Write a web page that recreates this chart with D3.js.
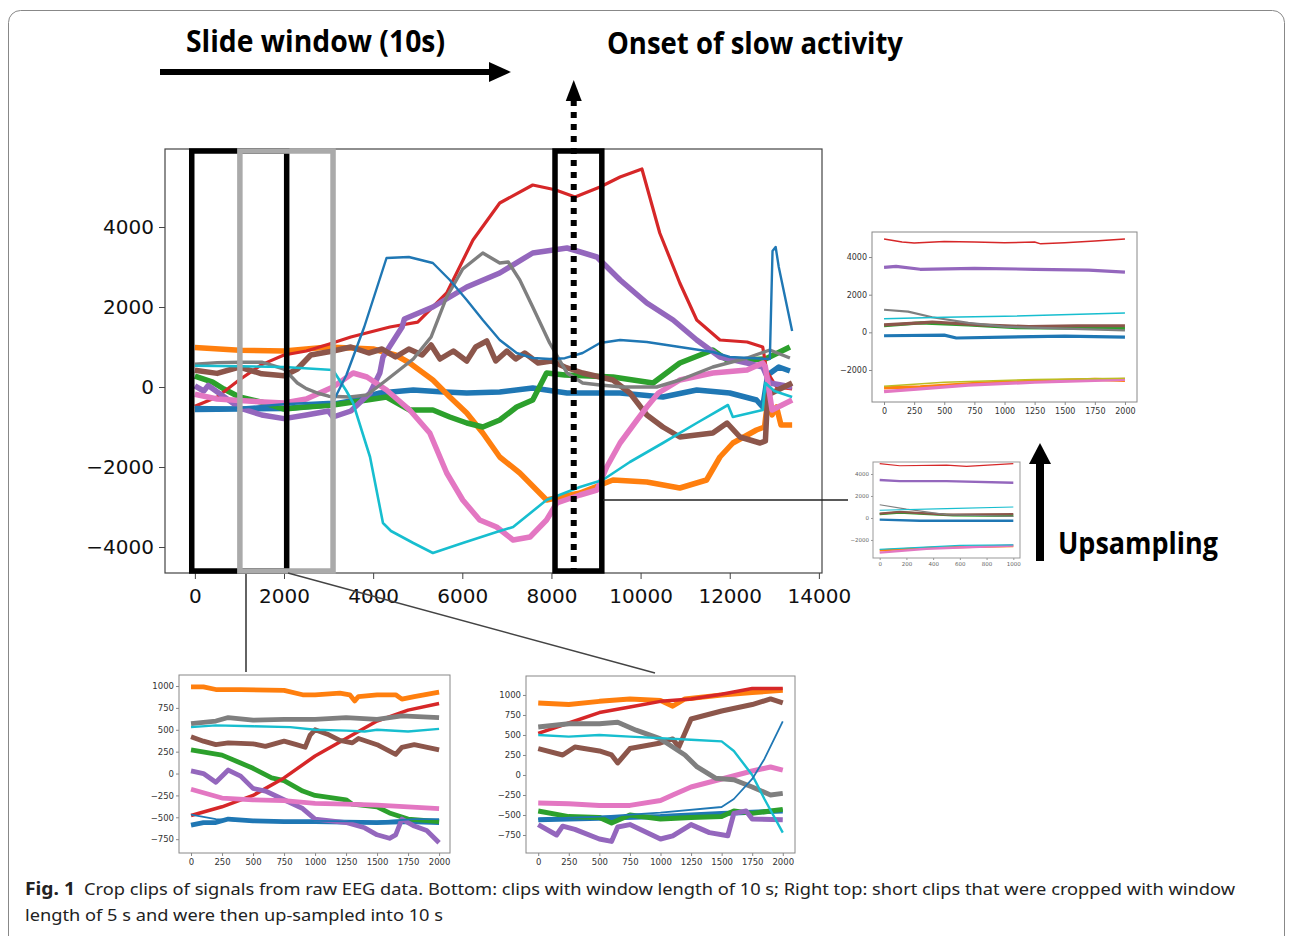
<!DOCTYPE html>
<html lang="en">
<head>
<meta charset="UTF-8">
<title>Fig. 1 crop clips</title>
<script src="https://d3js.org/d3.v7.min.js"></script>
<style>
    body{ margin:0; background:#fff; }
    svg{ display:block; }
    .tick text{ font-family:"DejaVu Sans", sans-serif; }
    .head{ font-family:"Open Sans", "Noto Sans", sans-serif; font-weight:700; }
    .cap{ font-family:"Noto Sans", sans-serif; font-size:17px; fill:#222; }
</style>
</head>
<body>
<svg id="fig" width="1293" height="936"></svg>
<script>
const C = {blue:"#1f77b4", orange:"#ff7f0e", green:"#2ca02c", red:"#d62728", purple:"#9467bd",
           brown:"#8c564b", pink:"#e377c2", gray:"#7f7f7f", olive:"#bcbd22", cyan:"#17becf"};

// ---- main recording: [sample, amplitude] ----
const mainBlueNoisy = [[0,-560],[1000,-550],[2000,-540],[3000,-450],[3500,-350],[4150,-150],[4900,-75],[5500,-120],[6100,-150],[6840,-125],[7580,-25],[8350,-150],[9540,-150],[10500,-250],[11260,-75],[12000,-150],[12600,-325],[12740,-500],[12850,300],[13100,500],[13350,400]];
const mainOrange = [[0,990],[1000,920],[2000,900],[3000,1000],[4000,950],[4500,800],[4820,600],[5340,175],[5720,-250],[6100,-650],[6460,-1150],[6840,-1750],[7290,-2150],[7890,-2825],[8640,-2650],[9380,-2325],[10140,-2375],[10880,-2525],[11480,-2325],[11780,-1750],[12070,-1400],[12600,-1075],[12780,-1000],[12850,-350],[12950,-700],[13050,-500],[13150,-950],[13400,-950]];
const mainGreen = [[0,270],[400,120],[650,-50],[1000,-250],[1500,-380],[2000,-550],[2500,-500],[3100,-450],[3860,-325],[4300,-250],[4820,-575],[5340,-575],[5720,-750],[6100,-900],[6460,-1000],[6840,-825],[7220,-500],[7580,-325],[7890,350],[8300,300],[9380,250],[10280,100],[10880,600],[11620,925],[11940,675],[12390,675],[12800,700],[13350,1000]];
const mainRed = [[0,-480],[500,-250],[1000,180],[1500,560],[2000,800],[2500,900],[3000,1070],[3500,1250],[4375,1500],[5000,1620],[5650,2350],[6240,3675],[6840,4600],[7580,5050],[8080,4930],[8530,4750],[9090,5000],[9540,5250],[10030,5450],[10430,3850],[10880,2600],[11260,1675],[11780,1175],[12390,1125],[12740,1000],[12830,400],[13050,0],[13400,-50]];
const mainPurple = [[0,30],[200,-100],[300,40],[600,-200],[1000,-520],[1500,-700],[2000,-790],[2500,-700],[3000,-600],[3100,-750],[3500,-600],[3930,-150],[4150,350],[4220,750],[4650,1500],[4700,1700],[5340,2000],[6100,2500],[6840,2850],[7580,3350],[8350,3475],[9020,3250],[9540,2675],[10140,2100],[10730,1675],[11260,1175],[11780,750],[12390,600],[12740,500],[12900,100],[13400,0]];
const mainBrown = [[0,420],[500,340],[1000,500],[1500,330],[2000,280],[2300,450],[2600,800],[3100,900],[3500,1000],[3900,850],[4200,950],[4500,750],[4800,950],[5100,800],[5300,1050],[5500,700],[5800,900],[6100,650],[6300,1000],[6550,1150],[6750,650],[7000,900],[7200,700],[7400,850],[7700,600],[8000,650],[8300,500],[8700,350],[9090,250],[9380,175],[9760,-150],[10140,-700],[10500,-1000],[10880,-1250],[11620,-1150],[11940,-900],[12230,-1250],[12680,-1400],[12800,-1350],[12850,-200],[13400,100]];
const mainPink = [[0,-180],[500,-300],[1000,-340],[2000,-400],[2500,-300],[3100,0],[3550,350],[3860,250],[4300,-75],[4820,-575],[5270,-1150],[5650,-2150],[6010,-2825],[6390,-3325],[6770,-3500],[7140,-3825],[7520,-3750],[7890,-3325],[8120,-2900],[8640,-2700],[9020,-2575],[9240,-2000],[9540,-1400],[9920,-825],[10140,-500],[10400,-150],[10880,175],[11620,350],[12390,425],[12740,600],[12800,500],[12950,-575],[13400,-325]];
const mainGray = [[0,570],[500,610],[1000,620],[1500,620],[2000,450],[2300,100],[2500,-40],[2750,-150],[3000,-230],[3480,-250],[3860,-200],[4300,175],[4900,700],[5300,1250],[5650,2250],[6010,2950],[6460,3350],[6840,3100],[7030,3125],[7290,2675],[7580,2000],[7960,1100],[8350,350],[8700,100],[9090,50],[9600,0],[10360,0],[10880,175],[11620,500],[12390,725],[12900,925],[13350,725]];
const mainCyan = [[0,530],[1000,520],[2000,500],[3100,425],[3400,-100],[3550,-400],[3930,-1750],[4220,-3400],[4400,-3600],[4900,-3900],[5340,-4150],[6010,-3900],[6770,-3625],[7140,-3500],[7890,-2825],[8640,-2500],[9150,-2325],[9760,-1875],[10500,-1400],[11260,-900],[11960,-450],[12070,-750],[12740,-575],[12800,100],[13000,-100],[13400,-250]];
const mainBlueSmooth = [[0,-500],[1000,-520],[2000,-430],[3100,-370],[3400,300],[3800,1500],[4300,3225],[4800,3250],[5340,3100],[5720,2675],[6100,2175],[6460,1675],[6840,1175],[7220,850],[7580,725],[7960,700],[8300,720],[8700,850],[9090,1100],[9540,1175],[10140,1125],[10880,1000],[11620,875],[12000,750],[12900,700],[12960,3400],[13030,3500],[13100,3000],[13400,1400]];

// windows on the main recording (sample ranges)
const slideWindow1 = [-70, 2060];
const slideWindow2 = [1010, 3100];
const onsetWindow = [8080, 9130];
const onsetSample = 8500;

// ---- bottom left clip (10 s) ----
const blOrange = [[0,990],[100,990],[200,960],[400,960],[750,950],[900,900],[1000,900],[1200,920],[1280,900],[1320,830],[1350,880],[1500,900],[1650,900],[1700,850],[1800,880],[2000,930]];
const blGray = [[0,570],[200,600],[300,640],[500,610],[750,620],[1000,620],[1250,640],[1500,620],[1700,660],[2000,640]];
const blCyan = [[0,530],[200,550],[500,540],[800,530],[1000,500],[1250,490],[1400,480],[1500,500],[1750,480],[2000,510]];
const blBrown = [[0,420],[100,370],[200,330],[300,350],[500,340],[600,310],[750,370],[850,330],[920,300],[960,440],[1000,500],[1100,450],[1200,380],[1300,350],[1350,400],[1500,330],[1650,220],[1700,300],[1800,330],[2000,270]];
const blRed = [[0,-480],[250,-380],[500,-250],[750,-50],[1000,200],[1250,400],[1500,600],[1750,725],[2000,800]];
const blGreen = [[0,270],[250,210],[400,120],[500,60],[650,-50],[750,-80],[900,-200],[1000,-250],[1250,-300],[1300,-350],[1500,-380],[1600,-450],[1750,-520],[2000,-550]];
const blPurple = [[0,30],[100,0],[200,-100],[300,40],[400,-30],[500,-170],[600,-200],[750,-300],[900,-400],[1000,-520],[1250,-560],[1400,-620],[1500,-700],[1600,-740],[1650,-700],[1700,-520],[1800,-600],[1900,-650],[2000,-790]];
const blPink = [[0,-180],[250,-280],[500,-300],[750,-310],[1000,-340],[1250,-350],[1500,-360],[1750,-380],[2000,-400]];
const blBlueNoisy = [[0,-590],[100,-560],[200,-560],[300,-520],[500,-540],[750,-550],[1000,-550],[1250,-555],[1500,-560],[1750,-550],[2000,-560]];
const blBlueSmooth = [[0,-470],[200,-520],[400,-540],[1000,-540],[1500,-550],[1800,-520],[2000,-520]];

// ---- bottom right clip (10 s) ----
const brOrange = [[0,900],[250,880],[500,920],[750,950],[1000,930],[1100,860],[1200,950],[1500,1000],[1750,1030],[2000,1060]];
const brRed = [[0,520],[250,650],[500,780],[750,850],[1000,920],[1250,950],[1500,1010],[1750,1080],[2000,1080]];
const brBrown = [[0,330],[200,250],[300,350],[500,300],[600,250],[650,150],[750,330],[1000,400],[1100,450],[1150,350],[1250,700],[1500,800],[1750,880],[1900,950],[2000,900]];
const brGray = [[0,600],[250,640],[500,640],[650,660],[800,560],[1000,450],[1200,250],[1300,100],[1450,-40],[1600,-60],[1750,-150],[1900,-250],[2000,-230]];
const brCyan = [[0,500],[250,480],[500,500],[750,480],[1000,460],[1250,440],[1500,420],[1600,300],[1750,0],[1850,-300],[2000,-720]];
const brPink = [[0,-350],[250,-360],[500,-380],[750,-380],[1000,-320],[1100,-250],[1250,-150],[1500,-50],[1750,50],[1900,100],[2000,60]];
const brBlueNoisy = [[0,-560],[500,-540],[1000,-520],[1500,-480],[2000,-450]];
const brGreen = [[0,-450],[250,-520],[500,-530],[600,-600],[750,-500],[1000,-550],[1250,-530],[1500,-520],[1600,-450],[1750,-480],[2000,-430]];
const brPurple = [[0,-620],[150,-750],[200,-640],[300,-680],[500,-800],[600,-830],[650,-650],[750,-620],[1000,-800],[1100,-760],[1250,-620],[1400,-720],[1550,-760],[1600,-480],[1700,-450],[1750,-550],[2000,-560]];
const brBlueSmooth = [[0,-550],[500,-520],[1000,-470],[1500,-400],[1600,-300],[1750,-50],[1850,200],[2000,670]];

// ---- right top clip (5 s up-sampled to 10 s) ----
const rtRed = [[0,4960],[150,4800],[250,4750],[500,4820],[750,4800],[1000,4760],[1250,4800],[1300,4700],[1500,4760],[1750,4850],[2000,4960]];
const rtPurple = [[0,3450],[100,3500],[300,3350],[750,3400],[1250,3350],[1700,3300],[2000,3200]];
const rtGray = [[0,1200],[200,1100],[400,800],[700,500],[1000,300],[1500,200],[2000,100]];
const rtCyan = [[0,720],[500,800],[1000,850],[2000,1030]];
const rtBrown = [[0,400],[300,500],[400,550],[800,400],[1200,300],[1600,350],[2000,350]];
const rtGreen = [[0,350],[300,500],[700,400],[1100,250],[2000,200]];
const rtBlue = [[0,-180],[500,-150],[600,-300],[1000,-250],[1500,-200],[2000,-250]];
const rtOlive = [[0,-2860],[500,-2650],[1250,-2500],[2000,-2440]];
const rtOrange = [[0,-2950],[300,-2900],[800,-2700],[1250,-2600],[1750,-2500],[2000,-2550]];
const rtPink = [[0,-3150],[300,-3000],[700,-2800],[1250,-2650],[1750,-2550],[2000,-2500]];

// ---- right middle clip (5 s) ----
const rmRed = [[0,4950],[150,4750],[500,4800],[650,4700],[1000,4950]];
const rmPurple = [[0,3450],[150,3350],[500,3350],[1000,3200]];
const rmGray = [[0,1200],[200,800],[500,300],[1000,150]];
const rmCyan = [[0,700],[500,850],[1000,1000]];
const rmBrown = [[0,400],[150,550],[500,300],[1000,350]];
const rmGreen = [[0,350],[150,500],[550,250],[1000,200]];
const rmBlue = [[0,-150],[300,-250],[1000,-250]];
const rmOlive = [[0,-2850],[600,-2500],[1000,-2450]];
const rmOrange = [[0,-2950],[400,-2700],[1000,-2550]];
const rmPink = [[0,-3150],[350,-2800],[1000,-2500]];

const svg = d3.select("#fig");

function panel(p) {
    const x = d3.scaleLinear().domain(p.xd).range([p.x0, p.x1]);
    const y = d3.scaleLinear().domain(p.yd).range([p.y1, p.y0]);
    const g = svg.append("g");
    const line = d3.line().x(d => x(d[0])).y(d => y(d[1]));
    g.append("g").selectAll("path").data(p.series).join("path")
        .attr("d", s => line(s.data))
        .attr("fill", "none")
        .attr("stroke", s => C[s.c])
        .attr("stroke-width", s => s.w || (s.noisy ? p.wn : p.ws))
        .attr("stroke-linejoin", "round");
    g.append("rect")
        .attr("x", p.x0).attr("y", p.y0)
        .attr("width", p.x1 - p.x0).attr("height", p.y1 - p.y0)
        .attr("fill", "none").attr("stroke", p.frame).attr("stroke-width", p.fw);
    const ax = g.append("g").attr("transform", `translate(0,${p.y1})`)
        .call(d3.axisBottom(x).tickValues(p.xt).tickSize(p.ts).tickPadding(p.tpx).tickFormat(d3.format("d")));
    const ay = g.append("g").attr("transform", `translate(${p.x0},0)`)
        .call(d3.axisLeft(y).tickValues(p.yt).tickSize(p.ts).tickPadding(p.tp).tickFormat(d3.format("d")));
    [ax, ay].forEach(a => {
        a.select(".domain").remove();
        a.selectAll("line").attr("stroke", p.frame);
        a.selectAll("text").style("font-size", p.fs + "px").attr("fill", p.tc);
    });
    return {x, y, g};
}

// main chart
const main = panel({
    x0:165, x1:822, y0:149, y1:573, xd:[-670, 14070], yd:[-4650, 5950],
    xt:d3.range(0, 14001, 2000), yt:[-4000,-2000,0,2000,4000],
    ts:6, tp:5, tpx:10, fs:20, tc:"#111", frame:"#444", fw:1.2, wn:5.5, ws:2.4,
    series:[
        {data:mainBlueNoisy, c:"blue", noisy:true},
        {data:mainOrange, c:"orange", noisy:true},
        {data:mainGreen, c:"green", noisy:true},
        {data:mainRed, c:"red", w:3.2},
        {data:mainPurple, c:"purple", noisy:true},
        {data:mainBrown, c:"brown", noisy:true},
        {data:mainPink, c:"pink", noisy:true},
        {data:mainGray, c:"gray", w:3.4},
        {data:mainCyan, c:"cyan", w:2.6},
        {data:mainBlueSmooth, c:"blue", noisy:false}
    ]
});

// windows on the main chart
const wTop = 5900, wBot = -4600;
[[slideWindow1, "#000"], [slideWindow2, "#aaa"], [onsetWindow, "#000"]].forEach(([w, col]) => {
    main.g.append("rect")
        .attr("x", main.x(w[0])).attr("y", main.y(wTop))
        .attr("width", main.x(w[1]) - main.x(w[0])).attr("height", main.y(wBot) - main.y(wTop))
        .attr("fill", "none").attr("stroke", col).attr("stroke-width", 5.5);
});
// onset dotted arrow
const ox = main.x(onsetSample);
main.g.append("line").attr("x1", ox).attr("x2", ox).attr("y1", 100).attr("y2", main.y(wBot))
    .attr("stroke", "#000").attr("stroke-width", 6).attr("stroke-dasharray", "6,6");
main.g.append("path").attr("d", `M${ox},80 L${ox - 8},101 L${ox + 8},101 Z`).attr("fill", "#000");

// bottom left clip
panel({
    x0:179, x1:450, y0:675, y1:853, xd:[-97, 2088], yd:[-908, 1126],
    xt:d3.range(0, 2001, 250), yt:d3.range(-750, 1001, 250),
    ts:3, tp:2, tpx:3, fs:8.5, tc:"#333", frame:"#888", fw:1, wn:4.8, ws:1.8,
    series:[
        {data:blBlueNoisy, c:"blue", noisy:true},
        {data:blOrange, c:"orange", noisy:true},
        {data:blGreen, c:"green", noisy:true},
        {data:blRed, c:"red", w:3.5},
        {data:blPurple, c:"purple", noisy:true},
        {data:blBrown, c:"brown", noisy:true},
        {data:blPink, c:"pink", noisy:true},
        {data:blGray, c:"gray", noisy:true},
        {data:blCyan, c:"cyan", w:2.4},
        {data:blBlueSmooth, c:"blue", noisy:false}
    ]
});

// bottom right clip
panel({
    x0:526, x1:795, y0:676, y1:853, xd:[-100, 2100], yd:[-975, 1237],
    xt:d3.range(0, 2001, 250), yt:d3.range(-750, 1001, 250),
    ts:3, tp:2, tpx:3, fs:8.5, tc:"#333", frame:"#888", fw:1, wn:5, ws:1.8,
    series:[
        {data:brBlueNoisy, c:"blue", noisy:true},
        {data:brOrange, c:"orange", noisy:true},
        {data:brGreen, c:"green", noisy:true},
        {data:brRed, c:"red", w:3.5},
        {data:brPurple, c:"purple", noisy:true},
        {data:brBrown, c:"brown", noisy:true},
        {data:brPink, c:"pink", noisy:true},
        {data:brGray, c:"gray", noisy:true},
        {data:brCyan, c:"cyan", w:2.4},
        {data:brBlueSmooth, c:"blue", noisy:false}
    ]
});

// right top clip
panel({
    x0:872, x1:1137, y0:232, y1:402, xd:[-100, 2100], yd:[-3700, 5330],
    xt:d3.range(0, 2001, 250), yt:[-2000,0,2000,4000],
    ts:3, tp:2, tpx:3, fs:8, tc:"#333", frame:"#888", fw:1, wn:3.2, ws:1.5,
    series:[
        {data:rtBlue, c:"blue", noisy:true},
        {data:rtOrange, c:"orange", noisy:true},
        {data:rtGreen, c:"green", noisy:true},
        {data:rtRed, c:"red", noisy:false},
        {data:rtPurple, c:"purple", noisy:true},
        {data:rtBrown, c:"brown", noisy:true},
        {data:rtPink, c:"pink", noisy:true},
        {data:rtGray, c:"gray", w:2.2},
        {data:rtOlive, c:"olive", noisy:false},
        {data:rtCyan, c:"cyan", noisy:false}
    ]
});

// right middle clip
panel({
    x0:873, x1:1020, y0:462, y1:558, xd:[-50, 1050], yd:[-3640, 5090],
    xt:d3.range(0, 1001, 200), yt:[-2000,0,2000,4000],
    ts:2, tp:2, tpx:2, fs:5.5, tc:"#666", frame:"#999", fw:1, wn:2.4, ws:1.2,
    series:[
        {data:rmBlue, c:"blue", noisy:true},
        {data:rmOrange, c:"orange", noisy:true},
        {data:rmGreen, c:"green", noisy:true},
        {data:rmRed, c:"red", noisy:false},
        {data:rmPurple, c:"purple", noisy:true},
        {data:rmBrown, c:"brown", noisy:true},
        {data:rmPink, c:"pink", noisy:true},
        {data:rmGray, c:"gray", noisy:false},
        {data:rmOlive, c:"cyan", noisy:false},
        {data:rmCyan, c:"cyan", noisy:false}
    ]
});

// connectors
const conn = svg.append("g").attr("stroke", "#222").attr("stroke-width", 1.4);
conn.append("line").attr("x1", 246).attr("y1", 574).attr("x2", 246).attr("y2", 672);
conn.append("line").attr("x1", 288).attr("y1", 573).attr("x2", 655).attr("y2", 673).attr("stroke", "#444");
conn.append("line").attr("x1", 603).attr("y1", 500).attr("x2", 848).attr("y2", 500).attr("stroke-width", 1.6);

// slide window arrow
svg.append("line").attr("x1", 160).attr("x2", 492).attr("y1", 72).attr("y2", 72)
    .attr("stroke", "#000").attr("stroke-width", 6);
svg.append("path").attr("d", "M511,72 L489,62 L489,82 Z").attr("fill", "#000");

// upsampling arrow
svg.append("line").attr("x1", 1040).attr("x2", 1040).attr("y1", 561).attr("y2", 460)
    .attr("stroke", "#000").attr("stroke-width", 8);
svg.append("path").attr("d", "M1040,443 L1029,464 L1051,464 Z").attr("fill", "#000");

// headings
svg.append("text").attr("class", "head").attr("x", 186).attr("y", 52)
    .attr("font-size", 30).attr("textLength", 259).attr("lengthAdjust", "spacingAndGlyphs")
    .text("Slide window (10s)");
svg.append("text").attr("class", "head").attr("x", 607).attr("y", 54)
    .attr("font-size", 30).attr("textLength", 296).attr("lengthAdjust", "spacingAndGlyphs")
    .text("Onset of slow activity");
svg.append("text").attr("class", "head").attr("x", 1058).attr("y", 554)
    .attr("font-size", 30).attr("textLength", 160).attr("lengthAdjust", "spacingAndGlyphs")
    .text("Upsampling");

// caption
svg.append("text").attr("class", "cap").attr("x", 25).attr("y", 895).attr("font-weight", 700)
    .attr("textLength", 50).attr("lengthAdjust", "spacingAndGlyphs").text("Fig. 1");
svg.append("text").attr("class", "cap").attr("x", 84).attr("y", 895)
    .attr("textLength", 1151).attr("lengthAdjust", "spacingAndGlyphs")
    .text("Crop clips of signals from raw EEG data. Bottom: clips with window length of 10 s; Right top: short clips that were cropped with window");
svg.append("text").attr("class", "cap").attr("x", 25).attr("y", 921)
    .attr("textLength", 418).attr("lengthAdjust", "spacingAndGlyphs")
    .text("length of 5 s and were then up-sampled into 10 s");

// figure border
svg.append("rect").attr("x", 8.5).attr("y", 10.5).attr("width", 1276).attr("height", 940)
    .attr("rx", 12).attr("fill", "none").attr("stroke", "#888").attr("stroke-width", 1);
</script>
</body>
</html>
